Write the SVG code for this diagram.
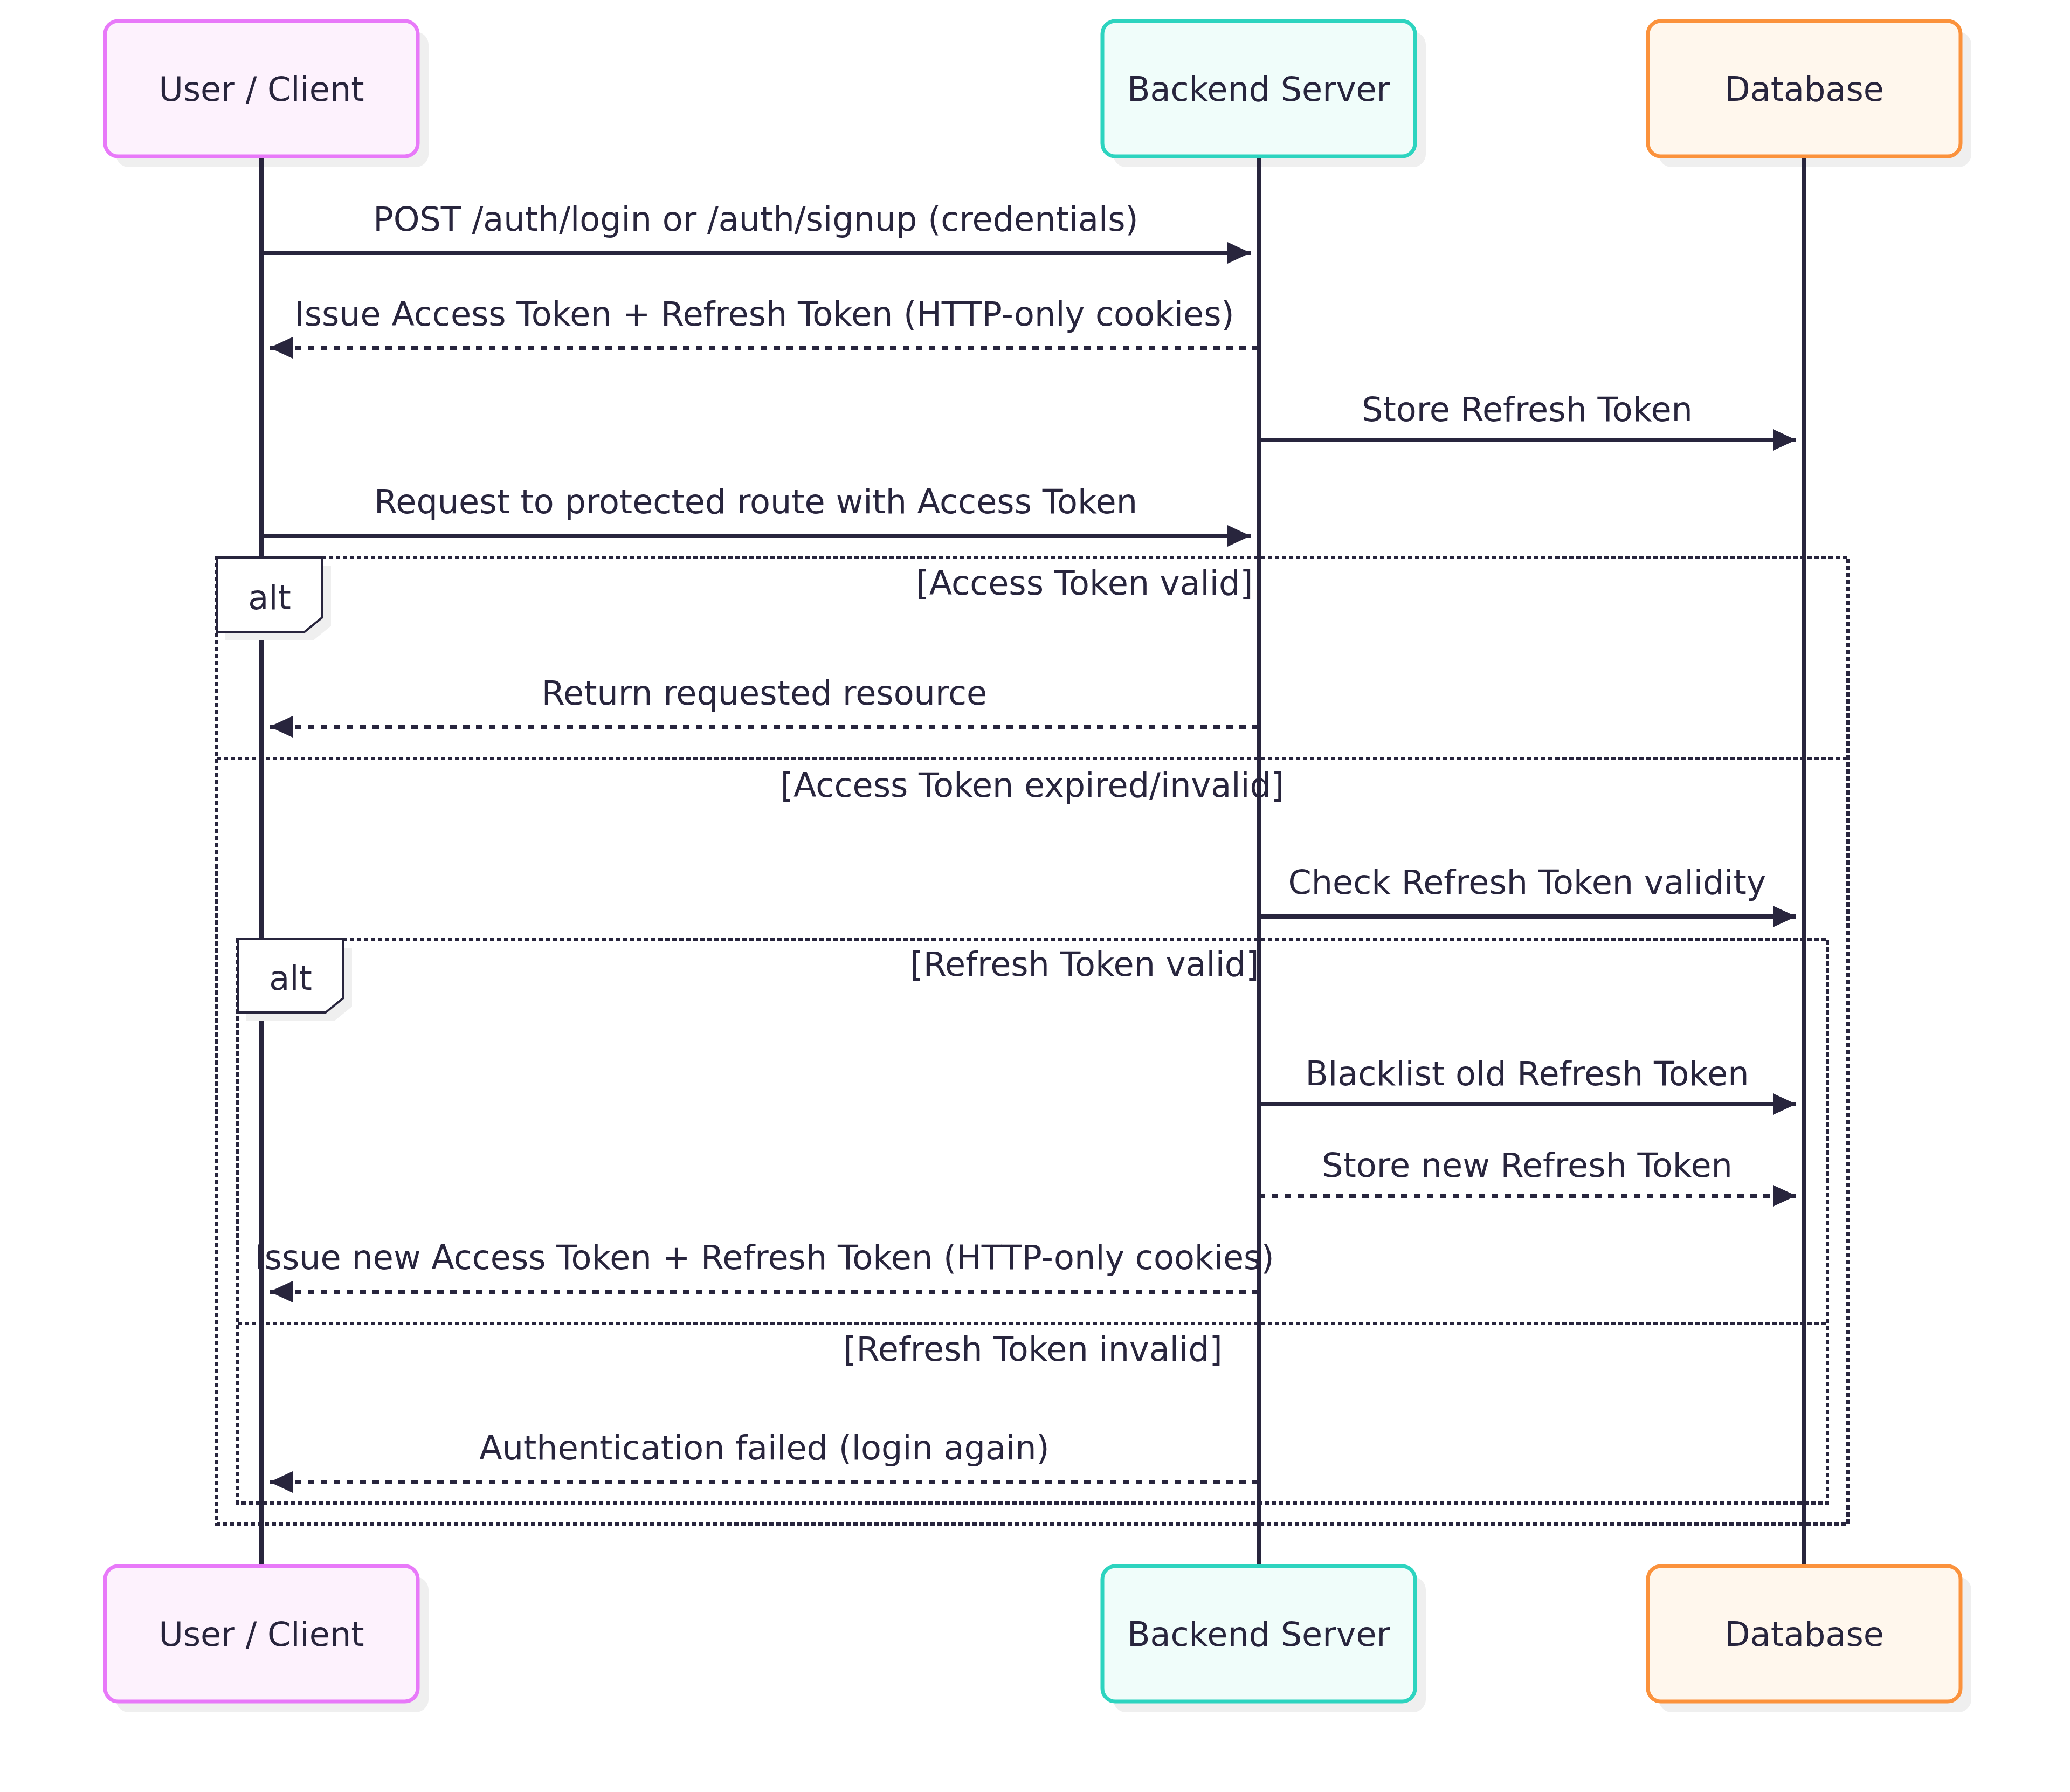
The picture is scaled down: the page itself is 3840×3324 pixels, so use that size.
<svg xmlns="http://www.w3.org/2000/svg" width="3840" height="3324" viewBox="0 0 3840 3324">
<style>
  text { font-family: "DejaVu Sans", "Noto Sans", sans-serif; fill: #28253d; }
  .actor-text { font-size: 62px; text-anchor: middle; }
  .msg-text { font-size: 62px; text-anchor: middle; }
  .lbl-text { font-size: 62px; text-anchor: middle; }
  .shadow { fill: #efefef; stroke: none; }
  .lifeline { stroke: #28253d; stroke-width: 8; fill: none; }
  .msg { stroke: #28253d; stroke-width: 8; fill: none; marker-end: url(#arrow); }
  .dashed { stroke-dasharray: 12 12; }
  .frame { fill: none; stroke: #28253d; stroke-width: 6; stroke-dasharray: 8 5; }
  .labelbox { fill: #ffffff; stroke: #28253d; stroke-width: 4; }
  .user { fill: #fdf2fd; stroke: #e879f9; stroke-width: 7; }
  .backend { fill: #f0fdfa; stroke: #2dd4bf; stroke-width: 7; }
  .db { fill: #fff7ed; stroke: #fb923c; stroke-width: 7; }
</style>
<defs>
  <marker id="arrow" markerUnits="userSpaceOnUse" markerWidth="44" markerHeight="42" refX="43" refY="21" orient="auto">
    <path d="M0,1 L43,21 L0,41 Z" fill="#28253d"/>
  </marker>
</defs>
<rect width="3840" height="3324" fill="#ffffff"/>

<g id="actor-user-top">
  <rect class="shadow" x="215" y="59" width="580" height="251" rx="24"/>
  <rect class="user" x="195" y="39" width="580" height="251" rx="24"/>
  <text class="actor-text" x="485" y="187">User / Client</text>
  <line class="lifeline" x1="485" y1="293" x2="485" y2="2905"/>
</g>
<g id="actor-backend-top">
  <rect class="shadow" x="2065" y="59" width="580" height="251" rx="24"/>
  <rect class="backend" x="2045" y="39" width="580" height="251" rx="24"/>
  <text class="actor-text" x="2335" y="187">Backend Server</text>
  <line class="lifeline" x1="2335" y1="293" x2="2335" y2="2905"/>
</g>
<g id="actor-db-top">
  <rect class="shadow" x="3077" y="59" width="580" height="251" rx="24"/>
  <rect class="db" x="3057" y="39" width="580" height="251" rx="24"/>
  <text class="actor-text" x="3347" y="187">Database</text>
  <line class="lifeline" x1="3347" y1="293" x2="3347" y2="2905"/>
</g>

<g id="alt-outer">
  <rect class="frame" x="402" y="1034" width="3026" height="1793"/>
  <line class="frame" x1="402" y1="1407" x2="3428" y2="1407"/>
  <polygon class="shadow" points="418,1050 614,1050 614,1161 581,1188 418,1188"/>
  <polygon class="labelbox" points="402,1034 598,1034 598,1145 565,1172 402,1172"/>
  <text class="lbl-text" x="500" y="1130">alt</text>
  <text class="lbl-text" x="2012" y="1103">[Access Token valid]</text>
  <text class="lbl-text" x="1915" y="1478">[Access Token expired/invalid]</text>
</g>

<g id="alt-inner">
  <rect class="frame" x="441" y="1742" width="2949" height="1046"/>
  <line class="frame" x1="441" y1="2455" x2="3390" y2="2455"/>
  <polygon class="shadow" points="457,1758 653,1758 653,1867 620,1894 457,1894"/>
  <polygon class="labelbox" points="441,1742 637,1742 637,1851 604,1878 441,1878"/>
  <text class="lbl-text" x="539" y="1836">alt</text>
  <text class="lbl-text" x="2012" y="1810">[Refresh Token valid]</text>
  <text class="lbl-text" x="1916" y="2524">[Refresh Token invalid]</text>
</g>

<g id="connectors">
  <line class="msg" x1="485" y1="469" x2="2320" y2="469"/>
  <text class="msg-text" x="1402" y="428">POST /auth/login or /auth/signup (credentials)</text>

  <line class="msg dashed" x1="2335" y1="645" x2="500" y2="645"/>
  <text class="msg-text" x="1418" y="604">Issue Access Token + Refresh Token (HTTP-only cookies)</text>

  <line class="msg" x1="2335" y1="816" x2="3332" y2="816"/>
  <text class="msg-text" x="2833" y="781">Store Refresh Token</text>

  <line class="msg" x1="485" y1="994" x2="2320" y2="994"/>
  <text class="msg-text" x="1402" y="952">Request to protected route with Access Token</text>

  <line class="msg dashed" x1="2335" y1="1348" x2="500" y2="1348"/>
  <text class="msg-text" x="1418" y="1307">Return requested resource</text>

  <line class="msg" x1="2335" y1="1700" x2="3332" y2="1700"/>
  <text class="msg-text" x="2833" y="1658">Check Refresh Token validity</text>

  <line class="msg" x1="2335" y1="2048" x2="3332" y2="2048"/>
  <text class="msg-text" x="2833" y="2013">Blacklist old Refresh Token</text>

  <line class="msg dashed" x1="2335" y1="2218" x2="3332" y2="2218"/>
  <text class="msg-text" x="2833" y="2183">Store new Refresh Token</text>

  <line class="msg dashed" x1="2335" y1="2396" x2="500" y2="2396"/>
  <text class="msg-text" x="1418" y="2354">Issue new Access Token + Refresh Token (HTTP-only cookies)</text>

  <line class="msg dashed" x1="2335" y1="2749" x2="500" y2="2749"/>
  <text class="msg-text" x="1418" y="2707">Authentication failed (login again)</text>
</g>

<g id="actor-user-bottom">
  <rect class="shadow" x="215" y="2925" width="580" height="251" rx="24"/>
  <rect class="user" x="195" y="2905" width="580" height="251" rx="24"/>
  <text class="actor-text" x="485" y="3053">User / Client</text>
</g>
<g id="actor-backend-bottom">
  <rect class="shadow" x="2065" y="2925" width="580" height="251" rx="24"/>
  <rect class="backend" x="2045" y="2905" width="580" height="251" rx="24"/>
  <text class="actor-text" x="2335" y="3053">Backend Server</text>
</g>
<g id="actor-db-bottom">
  <rect class="shadow" x="3077" y="2925" width="580" height="251" rx="24"/>
  <rect class="db" x="3057" y="2905" width="580" height="251" rx="24"/>
  <text class="actor-text" x="3347" y="3053">Database</text>
</g>
</svg>
